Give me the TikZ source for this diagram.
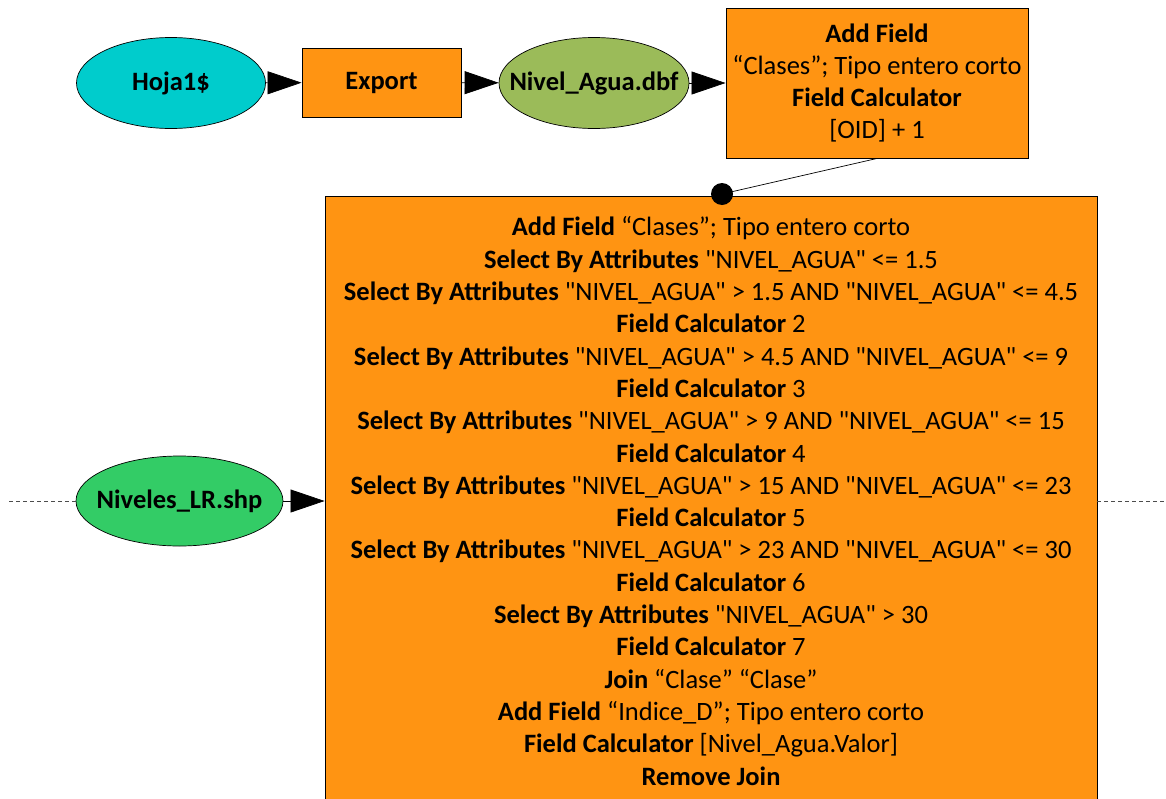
\documentclass[tikz,border=0pt]{standalone}
\usepackage{fontspec}
\newfontfamily\carl{Carlito}
\usetikzlibrary{shapes.geometric,arrows.meta}
\definecolor{orangebox}{RGB}{255,148,18}
\definecolor{cyanell}{RGB}{0,204,204}
\definecolor{oliveell}{RGB}{155,187,89}
\definecolor{greenell}{RGB}{51,204,102}
\tikzset{
  ell/.style={ellipse, draw=black, line width=0.7pt, inner sep=0pt},
  procbox/.style={rectangle, draw=black, line width=0.9pt, fill=orangebox, align=center, inner sep=0pt},
  flow/.style={line width=0.7pt, -{Triangle[length=34pt,width=23pt]}},
  dashline/.style={line width=0.6pt, dash pattern=on 4pt off 3pt, draw=black!70},
  txt/.style={font=\carl\fontsize{26.5}{32.3}\selectfont}
}
\begin{document}
\begin{tikzpicture}[x=1pt,y=-1pt]
\useasboundingbox (0,0) rectangle (1166,798);
\node[ell, txt, fill=cyanell, minimum width=189, minimum height=91] (hoja) at (171,83) {\makebox[0pt]{\textbf{Hoja1\$}}};
\node[procbox, txt, minimum width=159, minimum height=69] (export) at (381.5,82.5) {\textbf{Export}};
\node[ell, txt, fill=oliveell, minimum width=190, minimum height=91] (dbf) at (594,83) {\makebox[0pt]{\textbf{Nivel\_Agua.dbf}}};
\node[procbox, txt, minimum width=302, minimum height=150] (add) at (877,83) {\textbf{Add Field}\\“Clases”; Tipo entero corto\\\textbf{Field Calculator}\\{[OID]} + 1};
\node[ell, txt, fill=greenell, minimum width=207, minimum height=90] (shp) at (179.5,501) {\makebox[0pt]{\textbf{Niveles\_LR.shp}}};
\node[procbox, txt, minimum width=772, minimum height=609] (big) at (711,501) {%
\textbf{Add Field} “Clases”; Tipo entero corto\\
\textbf{Select By Attributes} "NIVEL\_AGUA" <= 1.5\\
\textbf{Select By Attributes} "NIVEL\_AGUA" > 1.5 AND "NIVEL\_AGUA" <= 4.5\\
\textbf{Field Calculator} 2\\
\textbf{Select By Attributes} "NIVEL\_AGUA" > 4.5 AND "NIVEL\_AGUA" <= 9\\
\textbf{Field Calculator} 3\\
\textbf{Select By Attributes} "NIVEL\_AGUA" > 9 AND "NIVEL\_AGUA" <= 15\\
\textbf{Field Calculator} 4\\
\textbf{Select By Attributes} "NIVEL\_AGUA" > 15 AND "NIVEL\_AGUA" <= 23\\
\textbf{Field Calculator} 5\\
\textbf{Select By Attributes} "NIVEL\_AGUA" > 23 AND "NIVEL\_AGUA" <= 30\\
\textbf{Field Calculator} 6\\
\textbf{Select By Attributes} "NIVEL\_AGUA" > 30\\
\textbf{Field Calculator} 7\\
\textbf{Join} “Clase” “Clase”\\
\textbf{Add Field} “Indice\_D”; Tipo entero corto\\
\textbf{Field Calculator} [Nivel\_Agua.Valor]\\
\textbf{Remove Join}};
\coordinate (lend) at (9,501);
\coordinate (rend) at (1166,501);
\coordinate (dot) at (722,194);
\draw[flow] (hoja) -- (export);
\draw[flow] (export) -- (dbf);
\draw[flow] (dbf) -- (add);
\draw[flow] (shp) -- (big);
\draw[dashline] (lend) -- (shp.west);
\draw[dashline] (big.east) -- (rend);
\draw[line width=0.7pt] (add.south) -- (dot);
\fill[black] (dot) circle (11);
\end{tikzpicture}
\end{document}
